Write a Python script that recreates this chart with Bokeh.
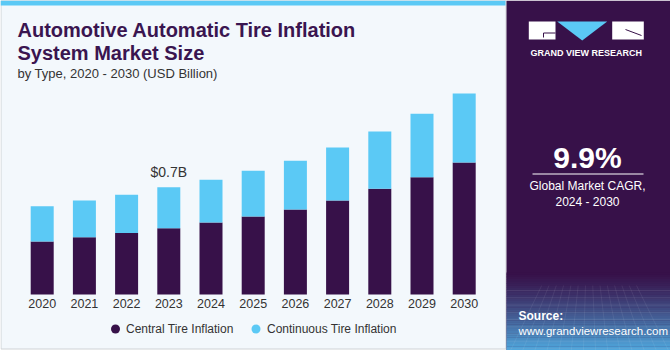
import numpy as np
from bokeh.plotting import figure
from bokeh.models import Range1d
from bokeh.core.properties import value
from bokeh.embed import file_html
from bokeh.resources import INLINE

# ---------------- data ----------------
years = ["2020", "2021", "2022", "2023", "2024", "2025", "2026", "2027", "2028", "2029", "2030"]
central = [0.346, 0.374, 0.402, 0.433, 0.470, 0.509, 0.555, 0.613, 0.690, 0.765, 0.861]
continuous = [0.230, 0.239, 0.248, 0.267, 0.278, 0.298, 0.317, 0.346, 0.373, 0.414, 0.450]
series_names = ["Central Tire Inflation", "Continuous Tire Inflation"]
annot_year = "2023"
annot_text = "$0.7B"
title_lines = ["Automotive Automatic Tire Inflation", "System Market Size"]
subtitle = "by Type, 2020 - 2030 (USD Billion)"
cagr = "9.9%"
cagr_lines = ["Global Market CAGR,", "2024 - 2030"]

# ---------------- style ----------------
W, H = 670, 350
DARK = "#371149"
BLUE = "#5bc9f5"
PANEL_BG = "#f3f8fc"
TEXT = "#333333"
TITLE_C = "#3a1550"
BODY = "Liberation Sans"

# chart geometry (pixels)
bar_x0 = 41.7        # centre of first bar
bar_step = 42.2      # bar spacing
bar_w = 23.0
base_from_bottom = 56.0
px_per_unit = 107.3 / 0.7

yrs = np.array([int(y) for y in years], dtype=float)
x_start = yrs[0] - bar_x0 / bar_step
x_end = x_start + W / bar_step
y_start = -base_from_bottom / px_per_unit
y_end = y_start + H / px_per_unit

p = figure(width=W, height=H, x_range=Range1d(0, W), y_range=Range1d(H, 0),
           x_axis_type=None, y_axis_type=None, toolbar_location=None,
           output_backend="svg", min_border=0)
p.extra_x_ranges = {"yr": Range1d(x_start, x_end)}
p.extra_y_ranges = {"val": Range1d(y_start, y_end)}
p.grid.visible = False
p.outline_line_color = None
p.background_fill_color = "white"
p.border_fill_color = "white"

# ---------------- left panel ----------------
p.quad(left=[0.5], right=[505.5], top=[0], bottom=[348.5], fill_color=PANEL_BG,
       line_color="#cfd3d6", line_width=1)
p.quad(left=[0], right=[505], top=[0], bottom=[5], fill_color=BLUE, line_color=None)

p.text(x=[17, 17], y=[29, 52], text=title_lines, text_font=value(BODY),
       text_font_size="20px", text_font_style="bold", text_color=TITLE_C,
       text_baseline="middle", text_align="left")
p.text(x=[17], y=[73], text=[subtitle], text_font=value(BODY), text_font_size="13px",
       text_color=TEXT, text_baseline="middle", text_align="left")

# ---------------- bars ----------------
bw = bar_w / bar_step
cen = np.array(central)
con = np.array(continuous)
p.vbar(x=yrs, width=bw, bottom=0, top=cen, fill_color=DARK, line_color=None,
       x_range_name="yr", y_range_name="val")
p.vbar(x=yrs, width=bw, bottom=cen, top=cen + con, fill_color=BLUE, line_color=None,
       x_range_name="yr", y_range_name="val")

# year tick labels
p.text(x=yrs, y=[-9 / px_per_unit] * len(yrs), text=years, text_font=value(BODY),
       text_font_size="12.5px", text_color=TEXT, text_align="center",
       text_baseline="middle", x_range_name="yr", y_range_name="val")

# annotation
ai = years.index(annot_year)
p.text(x=[yrs[ai]], y=[cen[ai] + con[ai] + 15 / px_per_unit], text=[annot_text],
       text_font=value(BODY), text_font_size="14px", text_color=TEXT,
       text_align="center", text_baseline="middle", x_range_name="yr", y_range_name="val")

# legend
p.scatter(x=[115, 255.5], y=[328.5, 328.5], size=9, marker="circle",
          fill_color=[DARK, BLUE], line_color=None)
p.text(x=[125.5, 266.5], y=[328, 328], text=series_names, text_font=value(BODY),
       text_font_size="12px", text_color=TEXT, text_baseline="middle", text_align="left")

# ---------------- right panel ----------------
p.quad(left=[506], right=[W], top=[0], bottom=[H], fill_color=DARK, line_color=None)

# gradient at bottom
def mix(c1, c2, t):
    a = np.array([int(c1[i:i + 2], 16) for i in (1, 3, 5)])
    b = np.array([int(c2[i:i + 2], 16) for i in (1, 3, 5)])
    c = (a + (b - a) * t).round().astype(int)
    return "#%02x%02x%02x" % tuple(c)

n = 36
g0, g1 = 272.0, 350.0
edges = np.linspace(g0, g1, n + 1)
cols = [mix(DARK, "#4fa6dc", (i / (n - 1)) ** 1.2) for i in range(n)]
p.quad(left=[506] * n, right=[W] * n, top=edges[:-1], bottom=edges[1:] + 0.3,
       fill_color=cols, line_color=None)
# faint grid pattern in gradient
for yy in np.linspace(290, 348, 9):
    p.line(x=[506, W], y=[yy, yy], line_color="white", line_alpha=0.12, line_width=0.7)
for xx in np.linspace(510, 668, 14):
    p.line(x=[xx, 588 + (xx - 588) * 0.6], y=[350, 285], line_color="white",
           line_alpha=0.10, line_width=0.7)

# logo
p.quad(left=[528.3, 611.7], right=[555, 643.3], top=[21, 21], bottom=[39, 39],
       fill_color="white", line_color=None)
p.patch(x=[556.7, 606.7, 581.7], y=[21, 21, 40], fill_color=BLUE, line_color=None)
p.line(x=[543, 555], y=[32.5, 32.5], line_color=DARK, line_width=1)
p.line(x=[543, 543], y=[32.5, 37], line_color=DARK, line_width=1)
p.line(x=[625, 641], y=[29, 35], line_color=DARK, line_width=1)
p.text(x=[585.8], y=[52.5], text=["GRAND VIEW RESEARCH"], text_font=value(BODY),
       text_font_size="9px", text_font_style="bold", text_color="white",
       text_align="center", text_baseline="middle")

# CAGR
p.text(x=[587], y=[157], text=[cagr], text_font=value(BODY), text_font_size="30px",
       text_font_style="bold", text_color="white", text_align="center", text_baseline="middle")
p.line(x=[532, 643], y=[173.5, 173.5], line_color="white", line_width=1)
p.text(x=[587, 587], y=[185, 201], text=cagr_lines, text_font=value(BODY),
       text_font_size="12px", text_color="white", text_align="center", text_baseline="middle")

# source
p.text(x=[518], y=[315], text=["Source:"], text_font=value(BODY), text_font_size="12px",
       text_font_style="bold", text_color="white", text_align="left", text_baseline="middle")
p.text(x=[518], y=[330], text=["www.grandviewresearch.com"], text_font=value(BODY),
       text_font_size="11.5px", text_color="white", text_align="left", text_baseline="middle")

open("out.html", "w").write(file_html(p, INLINE))
